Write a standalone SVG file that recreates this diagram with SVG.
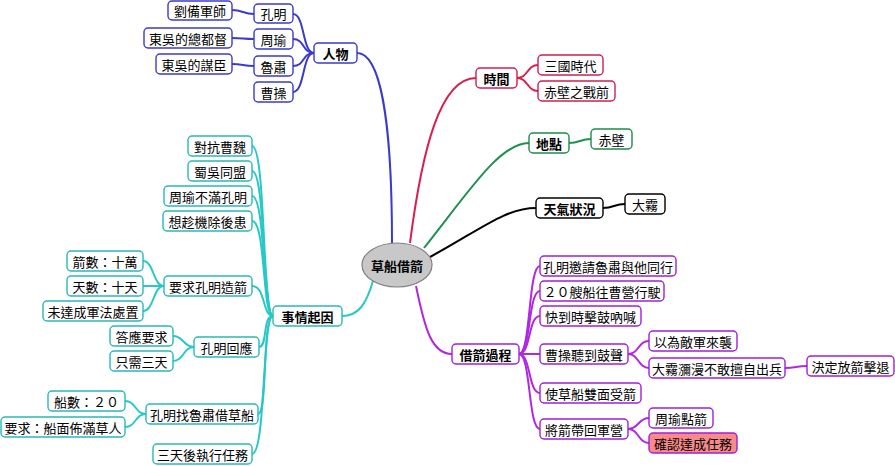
<svg xmlns="http://www.w3.org/2000/svg" width="895" height="466" viewBox="0 0 895 466">
<style>
text{font-family:"Noto Sans CJK TC","Noto Sans CJK SC",sans-serif;font-size:13px;text-anchor:middle;dominant-baseline:central;fill:#000}
.b{font-weight:bold}
rect{fill:#fff;stroke-width:1.4}
.c path{fill:none;stroke-width:2}
.blue rect{stroke:#3a3acc}.blue path,path.blue{stroke:#3a3acc}
.red rect{stroke:#cc2050}path.red{stroke:#d8204c}
.green rect{stroke:#1f8a4c}path.green{stroke:#1f9050}
.black rect{stroke:#000}path.black{stroke:#000}
.pur rect{stroke:#a020d8}path.pur{stroke:#b028e0}
.teal rect{stroke:#2ab8b8}path.teal{stroke:#28c8c8}
rect.hl{fill:#f88a8a}
</style>
<rect width="895" height="466" fill="#fff" stroke="none"/>
<g class="c" id="connectors">
<!-- main branches -->
<path class="blue" d="M357,53 C385,53 392,150 392,243"/>
<path class="red" d="M410,243 C422,150 440,78 476,78"/>
<path class="green" d="M424,248 C470,190 500,143 529,143"/>
<path class="black" d="M430,257 C480,230 505,208 536,208"/>
<path class="pur" d="M416,286 C425,330 432,354 452,354"/>
<path class="teal" d="M373,281 C366,305 358,316 342,316"/>
<!-- 人物 -->
<path class="blue" d="M314,53 C302,53 305,14 293,14"/>
<path class="blue" d="M314,53 C302,53 305,39 293,39"/>
<path class="blue" d="M314,53 C302,53 305,66 293,66"/>
<path class="blue" d="M314,53 C302,53 305,92 293,92"/>
<path class="blue" d="M254,14 C243,14 243,10 232,10"/>
<path class="blue" d="M254,39 C243,39 243,38 232,38"/>
<path class="blue" d="M254,66 C243,66 243,64 232,64"/>
<!-- 時間 -->
<path class="red" d="M517,78 C528,78 527,65 538,65"/>
<path class="red" d="M517,78 C528,78 527,91 538,91"/>
<path class="green" d="M569,143 C580,143 580,139 591,139"/>
<path class="black" d="M603,208 C614,208 614,204 625,204"/>
<!-- 借箭過程 -->
<path class="pur" d="M519,354 C531,354 528,266 540,266"/>
<path class="pur" d="M519,354 C531,354 528,291 540,291"/>
<path class="pur" d="M519,354 C531,354 528,316 540,316"/>
<path class="pur" d="M519,354 C531,354 528,354 540,354"/>
<path class="pur" d="M519,354 C531,354 528,393 540,393"/>
<path class="pur" d="M519,354 C531,354 528,429 540,429"/>
<path class="pur" d="M628,354 C639,354 638,341 649,341"/>
<path class="pur" d="M628,354 C639,354 638,368 649,368"/>
<path class="pur" d="M785,368 C796,368 796,366 807,366"/>
<path class="pur" d="M628,429 C639,429 638,418 649,418"/>
<path class="pur" d="M628,429 C639,429 638,443 649,443"/>
<!-- 事情起因 -->
<path class="teal" d="M273,316 C262,316 266,146 252,146"/>
<path class="teal" d="M273,316 C262,316 266,171 252,171"/>
<path class="teal" d="M273,316 C262,316 266,196 252,196"/>
<path class="teal" d="M273,316 C262,316 266,221 252,221"/>
<path class="teal" d="M273,316 C262,316 266,286 252,286"/>
<path class="teal" d="M273,316 C262,316 268,347 259,347"/>
<path class="teal" d="M273,316 C262,316 268,414 258,414"/>
<path class="teal" d="M273,316 C262,316 266,454 252,454"/>
<path class="teal" d="M164,286 C153,286 154,261 143,261"/>
<path class="teal" d="M164,286 L143,286"/>
<path class="teal" d="M164,286 C153,286 154,311 143,311"/>
<path class="teal" d="M194,347 C183,347 184,336 173,336"/>
<path class="teal" d="M194,347 C183,347 184,361 173,361"/>
<path class="teal" d="M146,414 C135,414 136,401 125,401"/>
<path class="teal" d="M146,414 C135,414 136,427 125,427"/>
</g>
<g id="center"><ellipse cx="397" cy="265" rx="35" ry="22" fill="#c8c8c8" stroke="#808080" stroke-width="1.2"/><text class="b" x="397" y="265">草船借箭</text></g>
<g class="blue">
<g id="n-renwu"><rect x="314" y="43" width="43" height="20" rx="4"/><text class="b" x="335.5" y="53">人物</text></g>
<g id="n-kongming"><rect x="254" y="4" width="39" height="19" rx="4"/><text x="273.5" y="13.5">孔明</text></g>
<g id="n-zhouyu"><rect x="254" y="29" width="39" height="20" rx="4"/><text x="273.5" y="39">周瑜</text></g>
<g id="n-lusu"><rect x="254" y="56" width="39" height="20" rx="4"/><text x="273.5" y="66">魯肅</text></g>
<g id="n-caocao"><rect x="254" y="82" width="39" height="20" rx="4"/><text x="273.5" y="92">曹操</text></g>
<g id="n-liubei"><rect x="168" y="1" width="64" height="19" rx="4"/><text x="200" y="10.5">劉備軍師</text></g>
<g id="n-dudu"><rect x="144" y="28" width="88" height="20" rx="4"/><text x="188" y="38">東吳的總都督</text></g>
<g id="n-mouchen"><rect x="156" y="54" width="76" height="20" rx="4"/><text x="194" y="64">東吳的謀臣</text></g>
</g>
<g class="red">
<g id="n-time"><rect x="476" y="68" width="41" height="20" rx="4"/><text class="b" x="496.5" y="78">時間</text></g>
<g id="n-sanguo"><rect x="538" y="55" width="65" height="20" rx="4"/><text x="570.5" y="65">三國時代</text></g>
<g id="n-chibiqian"><rect x="538" y="81" width="77" height="20" rx="4"/><text x="576.5" y="91">赤壁之戰前</text></g>
</g>
<g class="green">
<g id="n-place"><rect x="529" y="133" width="40" height="20" rx="4"/><text class="b" x="549" y="143">地點</text></g>
<g id="n-chibi"><rect x="591" y="129" width="41" height="20" rx="4"/><text x="611.5" y="139">赤壁</text></g>
</g>
<g class="black">
<g id="n-weather"><rect x="536" y="198" width="67" height="20" rx="4"/><text class="b" x="569.5" y="208">天氣狀況</text></g>
<g id="n-fog"><rect x="625" y="194" width="40" height="20" rx="4"/><text x="645" y="204">大霧</text></g>
</g>
<g class="pur">
<g id="n-process"><rect x="452" y="344" width="67" height="20" rx="4"/><text class="b" x="485.5" y="354">借箭過程</text></g>
<g id="n-p1"><rect x="540" y="256" width="136" height="20" rx="4"/><text x="608" y="266">孔明邀請魯肅與他同行</text></g>
<g id="n-p2"><rect x="540" y="281" width="124" height="20" rx="4"/><text x="602" y="291">２０艘船往曹營行駛</text></g>
<g id="n-p3"><rect x="540" y="306" width="101" height="20" rx="4"/><text x="590.5" y="316">快到時擊鼓吶喊</text></g>
<g id="n-p4"><rect x="540" y="344" width="88" height="20" rx="4"/><text x="584" y="354">曹操聽到鼓聲</text></g>
<g id="n-p4a"><rect x="649" y="331" width="88" height="20" rx="4"/><text x="693" y="341">以為敵軍來襲</text></g>
<g id="n-p4b"><rect x="649" y="358" width="136" height="20" rx="4"/><text x="717" y="368">大霧瀰漫不敢擅自出兵</text></g>
<g id="n-p4c"><rect x="807" y="356" width="87" height="20" rx="4"/><text x="850.5" y="366">決定放箭擊退</text></g>
<g id="n-p5"><rect x="540" y="383" width="101" height="20" rx="4"/><text x="590.5" y="393">使草船雙面受箭</text></g>
<g id="n-p6"><rect x="540" y="419" width="88" height="20" rx="4"/><text x="584" y="429">將箭帶回軍營</text></g>
<g id="n-p6a"><rect x="649" y="408" width="64" height="20" rx="4"/><text x="681" y="418">周瑜點箭</text></g>
<g id="n-p6b"><rect class="hl" x="649" y="433" width="88" height="20" rx="4"/><text x="693" y="443">確認達成任務</text></g>
</g>
<g class="teal">
<g id="n-cause"><rect x="273" y="306" width="69" height="20" rx="4"/><text class="b" x="307.5" y="316">事情起因</text></g>
<g id="n-c1"><rect x="188" y="136" width="64" height="20" rx="4"/><text x="220" y="146">對抗曹魏</text></g>
<g id="n-c2"><rect x="188" y="161" width="64" height="20" rx="4"/><text x="220" y="171">蜀吳同盟</text></g>
<g id="n-c3"><rect x="164" y="186" width="88" height="20" rx="4"/><text x="208" y="196">周瑜不滿孔明</text></g>
<g id="n-c4"><rect x="163" y="211" width="89" height="20" rx="4"/><text x="207.5" y="221">想趁機除後患</text></g>
<g id="n-c5"><rect x="164" y="276" width="88" height="20" rx="4"/><text x="208" y="286">要求孔明造箭</text></g>
<g id="n-c5a"><rect x="67" y="251" width="76" height="20" rx="4"/><text x="105" y="261">箭數：十萬</text></g>
<g id="n-c5b"><rect x="67" y="276" width="76" height="20" rx="4"/><text x="105" y="286">天數：十天</text></g>
<g id="n-c5c"><rect x="43" y="301" width="100" height="20" rx="4"/><text x="93" y="311">未達成軍法處置</text></g>
<g id="n-c6"><rect x="194" y="337" width="65" height="20" rx="4"/><text x="226.5" y="347">孔明回應</text></g>
<g id="n-c6a"><rect x="110" y="326" width="63" height="20" rx="4"/><text x="141.5" y="336">答應要求</text></g>
<g id="n-c6b"><rect x="110" y="351" width="63" height="20" rx="4"/><text x="141.5" y="361">只需三天</text></g>
<g id="n-c7"><rect x="146" y="404" width="112" height="20" rx="4"/><text x="202" y="414">孔明找魯肅借草船</text></g>
<g id="n-c7a"><rect x="48" y="391" width="77" height="20" rx="4"/><text x="86.5" y="401">船數：２０</text></g>
<g id="n-c7b"><rect x="1" y="417" width="124" height="20" rx="4"/><text x="63" y="427">要求：船面佈滿草人</text></g>
<g id="n-c8"><rect x="153" y="444" width="99" height="20" rx="4"/><text x="202.5" y="454">三天後執行任務</text></g>
</g>
</svg>
